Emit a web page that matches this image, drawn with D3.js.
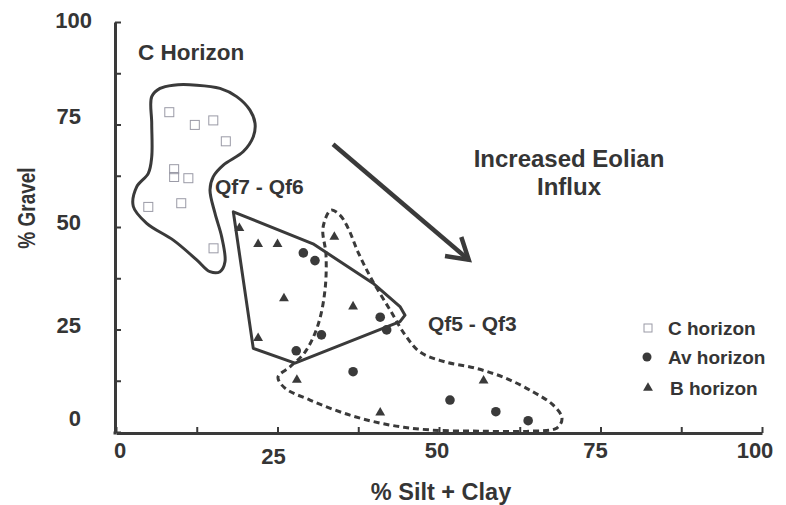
<!DOCTYPE html>
<html><head><meta charset="utf-8">
<script src="https://cdn.jsdelivr.net/npm/d3@7"></script>
<style>
html,body{margin:0;padding:0;background:#fff;}
svg text{font-family:"Liberation Sans",Arial,sans-serif;font-weight:bold;fill:#353535;}
</style></head>
<body><svg id="c" width="786" height="505"></svg>
<script>
// ---- data (values in % Silt + Clay, % Gravel) ----
const cHorizonX = [8.25, 12.2, 15.06, 17.0, 9.0, 9.0, 11.2, 5.0, 10.1, 15.1];
const cHorizonY = [78.0, 74.9, 76.0, 70.9, 64.1, 62.2, 61.9, 54.9, 55.8, 44.8];
const avHorizonX = [29.0, 30.8, 40.9, 41.9, 31.8, 27.9, 36.7, 51.7, 58.8, 63.8];
const avHorizonY = [43.7, 41.8, 28.0, 24.9, 23.7, 19.8, 14.7, 7.8, 4.95, 2.76];
const bHorizonX = [19.1, 22.0, 25.0, 33.8, 26.0, 36.7, 22.0, 28.0, 40.9, 56.9];
const bHorizonY = [49.7, 45.8, 45.8, 47.6, 32.6, 30.6, 22.9, 12.7, 4.7, 12.5];
const xTicks = [0, 25, 50, 75, 100];
const yTicks = [0, 25, 50, 75, 100];
const minorTicks = [0, 12.5, 25, 37.5, 50, 62.5, 75, 87.5, 100];
// group outlines
const cOutlineX = [5.53,6.81,8.87,12.49,16.10,18.68,20.74,21.52,21.25,19.71,16.61,15.06,14.55,15.33,16.36,16.87,16.10,14.55,12.49,8.87,4.75,2.68,3.20,5.00,5.53,5.53];
const cOutlineY = [81.8,83.8,84.6,84.6,83.8,81.8,78.5,75.3,72.0,68.4,65.1,62.3,59.0,53.3,47.6,41.5,39.1,39.1,42.0,46.8,50.9,55.0,59.8,63.1,67.1,75.3];
const qf76X = [18.16,30.50,39.78,43.96,44.74,43.96,27.71,21.25];
const qf76Y = [53.7,45.9,36.3,30.6,28.5,26.9,16.8,20.4];
const qf53X = [33.28,34.67,35.91,37.46,39.63,42.41,44.74,47.06,50.93,55.57,60.22,64.55,67.65,69.04,68.27,64.09,56.35,48.61,42.41,36.22,30.03,26.16,25.08,26.93,29.26,31.27,32.35,32.51,32.04];
const qf53Y = [54.1,52.9,49.8,43.9,37.1,29.8,23.7,19.5,17.1,15.6,13.2,9.8,6.6,3.4,1.0,0.2,0.2,0.5,1.7,4.1,7.8,10.7,13.4,15.9,19.5,26.1,34.6,43.2,49.8];
const arrowX = [33.6, 54.6];
const arrowY = [70.2, 42.0];
const legendLabels = ["C horizon", "Av horizon", "B horizon"];

const ink = "#3a3a3a";
const svg = d3.select("#c");
const x = d3.scaleLinear().domain([0,100]).range([116,762]);
const y = d3.scaleLinear().domain([0,100]).range([432,22]);
const zip = (a,b)=>a.map((v,i)=>[v,b[i]]);

// axes
const gx = svg.append("g").attr("transform","translate(0,433)")
  .call(d3.axisBottom(x).tickValues(minorTicks).tickSize(-6).tickSizeOuter(0).tickFormat(""));
const gy = svg.append("g").attr("transform","translate(115,0)")
  .call(d3.axisLeft(y).tickValues(minorTicks).tickSize(-6).tickSizeOuter(0).tickFormat(""));
[gx,gy].forEach(g=>{
  g.select(".domain").attr("stroke",ink).attr("stroke-width",3);
  g.selectAll(".tick line").attr("stroke",ink).attr("stroke-width",2);
});
svg.append("line").attr("x1",113.5).attr("x2",116).attr("y1",433).attr("y2",433).attr("stroke",ink).attr("stroke-width",3);

const yLabelOff = {0:-14, 25:-4, 50:-5, 75:-8, 100:-2};
svg.append("g").selectAll("text").data(yTicks).join("text")
  .attr("x", d=> d===100 ? 92 : 81)
  .attr("y", d=> y(d)+yLabelOff[d])
  .attr("text-anchor","end").attr("dominant-baseline","central")
  .attr("font-size",22).text(d=>d);
const xLabelOff = {0:4, 25:-4, 50:-2, 75:-5, 100:-7};
svg.append("g").selectAll("text").data(xTicks).join("text")
  .attr("x", d=> x(d)+xLabelOff[d])
  .attr("y", d=> d===25 ? 456 : 450)
  .attr("text-anchor","middle").attr("dominant-baseline","central")
  .attr("font-size",22).text(d=>d);

svg.append("text").attr("x",441).attr("y",492).attr("text-anchor","middle")
  .attr("dominant-baseline","central").attr("font-size",23.5).text("% Silt + Clay");
svg.append("text").attr("transform","translate(27,208) scale(1.25,1) rotate(-90)").attr("text-anchor","middle")
  .attr("dominant-baseline","central").attr("font-size",19).text("% Gravel");

// outlines
svg.append("path").attr("d", d3.line().x(d=>x(d[0])).y(d=>y(d[1])).curve(d3.curveCatmullRomClosed)(zip(cOutlineX,cOutlineY)))
  .attr("fill","none").attr("stroke",ink).attr("stroke-width",3);
svg.append("path").attr("d", d3.line().x(d=>x(d[0])).y(d=>y(d[1])).curve(d3.curveLinearClosed)(zip(qf76X,qf76Y)))
  .attr("fill","none").attr("stroke",ink).attr("stroke-width",3).attr("stroke-linejoin","round");
svg.append("path").attr("d", d3.line().x(d=>x(d[0])).y(d=>y(d[1])).curve(d3.curveCatmullRomClosed)(zip(qf53X,qf53Y)))
  .attr("fill","none").attr("stroke",ink).attr("stroke-width",3).attr("stroke-dasharray","6,4");

// arrow
svg.append("line").attr("x1",x(arrowX[0])).attr("y1",y(arrowY[0])).attr("x2",x(arrowX[1])).attr("y2",y(arrowY[1]))
  .attr("stroke",ink).attr("stroke-width",4.5);
{
  const tx=x(arrowX[1]), ty=y(arrowY[1]);
  const ang=Math.atan2(y(arrowY[1])-y(arrowY[0]), x(arrowX[1])-x(arrowX[0]));
  const L=24, spread=0.55;
  svg.append("path").attr("d",`M${tx-L*Math.cos(ang-spread)},${ty-L*Math.sin(ang-spread)}L${tx},${ty}L${tx-L*Math.cos(ang+spread)},${ty-L*Math.sin(ang+spread)}`)
    .attr("fill","none").attr("stroke",ink).attr("stroke-width",4.5).attr("stroke-linejoin","miter");
}

// points
svg.append("g").selectAll("rect").data(zip(cHorizonX,cHorizonY)).join("rect")
  .attr("x",d=>x(d[0])-4.5).attr("y",d=>y(d[1])-4.5).attr("width",9).attr("height",9)
  .attr("fill","none").attr("stroke","#9a9aa6").attr("stroke-width",1);
svg.append("g").selectAll("circle").data(zip(avHorizonX,avHorizonY)).join("circle")
  .attr("cx",d=>x(d[0])).attr("cy",d=>y(d[1])).attr("r",4.8).attr("fill",ink);
const tri = d3.symbol().type(d3.symbolTriangle).size(42);
svg.append("g").selectAll("path").data(zip(bHorizonX,bHorizonY)).join("path")
  .attr("transform",d=>`translate(${x(d[0])},${y(d[1])})`).attr("d",tri).attr("fill",ink);

// annotations
svg.append("text").attr("x",138).attr("y",52).attr("dominant-baseline","central").attr("font-size",22.5).text("C Horizon");
svg.append("text").attr("x",215).attr("y",186).attr("dominant-baseline","central").attr("font-size",21).text("Qf7 - Qf6");
svg.append("text").attr("x",428).attr("y",323).attr("dominant-baseline","central").attr("font-size",21).text("Qf5 - Qf3");
svg.append("text").attr("x",569).attr("y",158).attr("text-anchor","middle").attr("dominant-baseline","central").attr("font-size",24).text("Increased Eolian");
svg.append("text").attr("x",569).attr("y",186).attr("text-anchor","middle").attr("dominant-baseline","central").attr("font-size",24).text("Influx");

// legend
const lg = svg.append("g");
const ly = [328, 357, 388];
lg.append("rect").attr("x",644).attr("y",ly[0]-4).attr("width",8).attr("height",8).attr("fill","none").attr("stroke","#9a9aa6").attr("stroke-width",1);
lg.append("circle").attr("cx",647).attr("cy",ly[1]).attr("r",4.5).attr("fill",ink);
lg.append("path").attr("transform",`translate(648,${ly[2]})`).attr("d",tri).attr("fill",ink);
lg.selectAll("text").data(legendLabels).join("text")
  .attr("x",(d,i)=> i===2 ? 670 : 668).attr("y",(d,i)=>ly[i]).attr("dominant-baseline","central")
  .attr("font-size",19).text(d=>d);
</script></body></html>
